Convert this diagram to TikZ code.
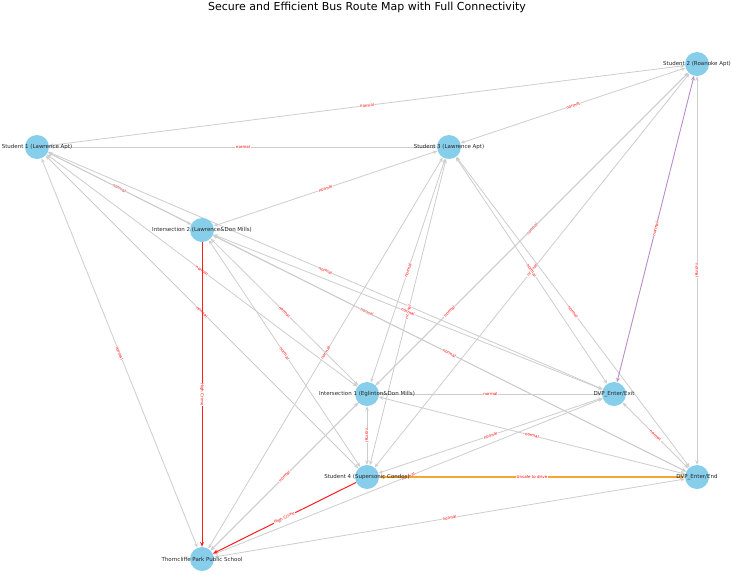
\documentclass[tikz,border=0pt]{standalone}
\usepackage{fontspec}
\setmainfont{DejaVu Sans}
\usetikzlibrary{arrows.meta}
\pgfdeclarelayer{edgelayer}
\pgfsetlayers{edgelayer,main}
\definecolor{nodeblue}{HTML}{87CEEB}
\definecolor{edgegray}{RGB}{205,205,205}
\definecolor{crimered}{RGB}{255,30,30}
\definecolor{unsafeorange}{RGB}{245,165,50}
\definecolor{mauve}{RGB}{185,140,200}
\tikzset{
  stop/.style={circle, fill=nodeblue, minimum size=24pt, inner sep=0pt, draw=none,
    label={[font=\fontsize{5.5}{6.5}\selectfont, inner sep=0pt, text=black!85]center:#1}},
  edge/.style={draw=edgegray, line width=0.8pt, {Stealth[length=4.5pt,width=3.6pt]}-{Stealth[length=4.5pt,width=3.6pt]}},
  elabel/.style={midway, sloped, fill=white, inner sep=0.5pt, text=red,
    font=\fontsize{4}{4.5}\selectfont},
  crime/.style={draw=crimered, line width=1pt, -{Stealth[length=5pt,width=4pt]}},
  unsafe/.style={draw=unsafeorange, line width=1.3pt, {Stealth[length=5pt,width=4pt]}-{Stealth[length=5pt,width=4pt]}},
  purp/.style={draw=mauve, line width=0.9pt, {Stealth[length=4.5pt,width=3.6pt]}-{Stealth[length=4.5pt,width=3.6pt]}},
}
\begin{document}
\begin{tikzpicture}[x=1pt,y=-1pt]
\useasboundingbox (0,0) rectangle (732,574);
\node[font=\fontsize{11}{13}\selectfont, inner sep=0pt] (title) at (367,7) {Secure and Efficient Bus Route Map with Full Connectivity};

\node[stop={Student 2 (Roanoke Apt)}] (s2) at (697,64) {};
\node[stop={Student 1 (Lawrence Apt)}] (s1) at (37,147) {};
\node[stop={Student 3 (Lawrence Apt)}] (s3) at (449,147) {};
\node[stop={Intersection 2 (Lawrence\&Don Mills)}] (i2) at (202,230) {};
\node[stop={Intersection 1 (Eglinton\&Don Mills)}] (i1) at (367,394) {};
\node[stop={DVP\_Enter/Exit}] (dx) at (614,394) {};
\node[stop={Student 4 (Supersonic Condos)}] (s4) at (367,477) {};
\node[stop={DVP\_Enter/End}] (de) at (697,477) {};
\node[stop={Thorncliffe Park Public School}] (tp) at (202,559) {};

\begin{pgfonlayer}{edgelayer}
\foreach \a/\b in {s1/s2, s1/s3, s3/s2, s1/i2, s3/i2, s1/i1, s1/s4, s1/dx, s1/de, s1/tp,
  s2/i1, s2/s4, s2/tp, s2/de, s3/i1, s3/s4, s3/dx, s3/de, s3/tp,
  i2/i1, i2/s4, i2/dx, i2/de, i1/dx, i1/s4, i1/de, i1/tp, dx/s4, dx/de, dx/tp, de/tp}
  \draw[edge] (\a) -- node[elabel] {normal} (\b);
\draw[purp] (s2) -- node[elabel] {normal} (dx);
\draw[crime] (i2) -- node[elabel] {High Crime} (tp);
\draw[crime] (s4) -- node[elabel] {High Crime} (tp);
\draw[unsafe] (s4) -- node[elabel] {Unsafe to drive} (de);
\end{pgfonlayer}
\end{tikzpicture}
\end{document}
